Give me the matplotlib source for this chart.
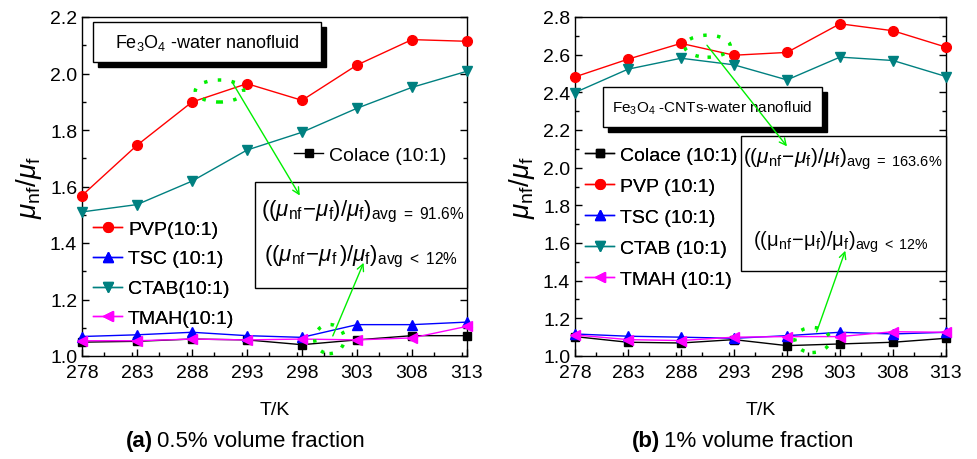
import matplotlib
matplotlib.use("Agg")
import matplotlib.pyplot as plt
from matplotlib.patches import Ellipse, Rectangle, FancyArrowPatch
from matplotlib.ticker import MultipleLocator

plt.rcParams['font.family'] = ['Liberation Sans', 'DejaVu Sans']
plt.rcParams['mathtext.fontset'] = 'custom'
plt.rcParams['mathtext.rm'] = 'Liberation Sans'
plt.rcParams['mathtext.it'] = 'Liberation Sans:italic'
plt.rcParams['mathtext.bf'] = 'Liberation Sans:bold'

# ---------------- data ----------------
temps = [278, 283, 288, 293, 298, 303, 308, 313]

series_names_a = ["Colace (10:1)", "PVP(10:1)", "TSC (10:1)", "CTAB(10:1)", "TMAH(10:1)"]
series_names_b = ["Colace (10:1)", "PVP (10:1)", "TSC (10:1)", "CTAB (10:1)", "TMAH (10:1)"]

colace_a = [1.049, 1.052, 1.060, 1.057, 1.040, 1.057, 1.072, 1.072]
pvp_a    = [1.568, 1.746, 1.899, 1.964, 1.905, 2.030, 2.120, 2.114]
tsc_a    = [1.069, 1.075, 1.084, 1.072, 1.066, 1.111, 1.111, 1.120]
ctab_a   = [1.510, 1.536, 1.619, 1.729, 1.792, 1.877, 1.951, 2.008]
tmah_a   = [1.054, 1.054, 1.060, 1.057, 1.060, 1.057, 1.064, 1.105]

colace_b = [1.103, 1.073, 1.069, 1.087, 1.055, 1.064, 1.073, 1.094]
pvp_b    = [2.482, 2.576, 2.660, 2.597, 2.612, 2.764, 2.727, 2.640]
tsc_b    = [1.117, 1.105, 1.100, 1.094, 1.108, 1.126, 1.117, 1.126]
ctab_b   = [2.399, 2.523, 2.581, 2.546, 2.466, 2.587, 2.569, 2.484]
tmah_b   = [1.112, 1.087, 1.082, 1.100, 1.103, 1.103, 1.129, 1.126]

colors = ["black", "#ff0000", "#0000ff", "#008080", "#ff00ff"]
markers = ["s", "o", "^", "v", "<"]
msizes = [5.5, 7, 7, 7, 7]

W, H = 978, 460
fig = plt.figure(figsize=(W / 100, H / 100), dpi=100)


def fx(px):
    return px / W


def fy(py):
    return 1 - py / H


def make_axes(x0, x1, y0, y1):
    return fig.add_axes([fx(x0), fy(y1), fx(x1) - fx(x0), fy(y0) - fy(y1)])


ax_a = make_axes(82, 467, 18, 357)
ax_b = make_axes(575, 946, 18, 357)

data_a = [colace_a, pvp_a, tsc_a, ctab_a, tmah_a]
data_b = [colace_b, pvp_b, tsc_b, ctab_b, tmah_b]

lines_a, lines_b = [], []
for i in range(5):
    l, = ax_a.plot(temps, data_a[i], color=colors[i], marker=markers[i], ms=msizes[i],
                   lw=1.0, label=series_names_a[i], clip_on=False, zorder=3)
    lines_a.append(l)
    l, = ax_b.plot(temps, data_b[i], color=colors[i], marker=markers[i], ms=msizes[i],
                   lw=1.0, label=series_names_b[i], clip_on=False, zorder=3)
    lines_b.append(l)

for ax, ylim in ((ax_a, (1.0, 2.2)), (ax_b, (1.0, 2.8))):
    ax.set_xlim(278, 313)
    ax.set_ylim(*ylim)
    ax.set_xticks(temps)
    ax.xaxis.set_minor_locator(MultipleLocator(2.5))
    ax.yaxis.set_major_locator(MultipleLocator(0.2))
    ax.yaxis.set_minor_locator(MultipleLocator(0.1))
    ax.yaxis.set_major_formatter(matplotlib.ticker.FormatStrFormatter('%.1f'))
    ax.tick_params(axis='both', which='both', direction='in', labelsize=14,
                   right=True, top=False)
    ax.tick_params(which='major', length=5, width=1)
    ax.tick_params(which='minor', length=3, width=1)
    ax.tick_params(axis='x', pad=6)
    for s in ax.spines.values():
        s.set_linewidth(1.0)
    ax.set_xlabel("T/K", fontsize=14, labelpad=14)
    ax.set_ylabel(r"$\mu_{\rm nf}/\mu_{\rm f}$", fontsize=20, labelpad=4)

# ---------- legends ----------
def px_legend(ax, handles, x_line, y_first, spacing):
    leg = ax.legend(handles=handles, loc='upper left',
                    bbox_to_anchor=(fx(x_line), fy(y_first - 7)),
                    bbox_transform=fig.transFigure, frameon=False, fontsize=14,
                    handlelength=1.5, handletextpad=0.3, labelspacing=spacing,
                    borderpad=0, borderaxespad=0)
    ax.add_artist(leg)
    return leg

px_legend(ax_a, [lines_a[0]], 294, 154, 0.6)
px_legend(ax_a, lines_a[1:], 93, 228, 0.63)
px_legend(ax_b, lines_b, 585, 154, 0.69)

# ---------- title boxes with shadow ----------
def shadow_box(x0, y0, x1, y1, text, size):
    fig.patches.append(Rectangle((fx(x0 + 5), fy(y1 + 5)), fx(x1 - x0), fy(y0) - fy(y1),
                                 transform=fig.transFigure, facecolor='black',
                                 edgecolor='black', zorder=5))
    fig.patches.append(Rectangle((fx(x0), fy(y1)), fx(x1 - x0), fy(y0) - fy(y1),
                                 transform=fig.transFigure, facecolor='white',
                                 edgecolor='black', lw=1.0, zorder=6))
    fig.text(fx((x0 + x1) / 2), fy((y0 + y1) / 2), text, fontsize=size,
             ha='center', va='center', zorder=7)

shadow_box(93, 23, 321, 63, r"Fe$_3$O$_4$ -water nanofluid", 13)
shadow_box(603, 88, 822, 128, r"Fe$_3$O$_4$ -CNTs-water nanofluid", 11)

# ---------- annotation boxes ----------
def plain_box(x0, y0, x1, y1):
    fig.patches.append(Rectangle((fx(x0), fy(y1)), fx(x1 - x0), fy(y0) - fy(y1),
                                 transform=fig.transFigure, facecolor='white',
                                 edgecolor='black', lw=1.0, zorder=4))

plain_box(255, 183, 467, 289)
plain_box(741, 137, 946, 272)

expr_it = r"$((\mu_{\rm nf}\!-\!\mu_{\rm f})/\mu_{\rm f})_{\rm avg\ =\ 91.6\%}$"
expr_it2 = r"$((\mu_{\rm nf}\!-\!\mu_{\rm f}\,)/\mu_{\rm f})_{\rm avg\ <\ 12\%}$"
expr_it3 = r"$((\mu_{\rm nf}\!-\!\mu_{\rm f})/\mu_{\rm f})_{\rm avg\ =\ 163.6\%}$"
expr_rm = r"$((\mathrm{\mu}_{\rm nf}\!-\!\mathrm{\mu}_{\rm f})/\mathrm{\mu}_{\rm f})_{\rm avg\ <\ 12\%}$"

fig.text(fx(363), fy(212), expr_it, fontsize=16, ha='center', va='center', zorder=8)
fig.text(fx(361), fy(257), expr_it2, fontsize=16, ha='center', va='center', zorder=8)
fig.text(fx(843), fy(159), expr_it3, fontsize=15, ha='center', va='center', zorder=8)
fig.text(fx(841), fy(242), expr_rm, fontsize=14.5, ha='center', va='center', zorder=8)

# ---------- green ellipses and arrows (drawn on top of everything) ----------
green = '#00ee00'

def mark(ax, c, w, h, start, end):
    e = Ellipse(c, w, h, fill=False, edgecolor=green, lw=2.5, linestyle=(0, (1, 3)),
                zorder=10)
    e.set_transform(ax.transData)
    fig.add_artist(e)
    a = FancyArrowPatch(start, end, arrowstyle='->', color=green, lw=1.0,
                        mutation_scale=12, shrinkA=0, shrinkB=0, zorder=10)
    a.set_transform(ax.transData)
    fig.add_artist(a)

mark(ax_a, (290.5, 1.938), 4.4, 0.078, (291.7, 1.966), (297.8, 1.568))
mark(ax_a, (300.5, 1.06), 2.7, 0.103, (300.8, 1.071), (303.6, 1.33))
mark(ax_b, (290.5, 2.645), 4.3, 0.117, (290.45, 2.65), (298.0, 2.113))
mark(ax_b, (300.4, 1.085), 3.3, 0.133, (300.8, 1.128), (303.5, 1.559))

# ---------- captions ----------
fig.text(fx(153), fy(442), "(a)", fontsize=16, fontweight='bold', ha='right', va='center')
fig.text(fx(157), fy(442), "0.5% volume fraction", fontsize=16, ha='left', va='center')
fig.text(fx(660), fy(442), "(b)", fontsize=16, fontweight='bold', ha='right', va='center')
fig.text(fx(664), fy(442), "1% volume fraction", fontsize=16, ha='left', va='center')

fig.savefig("out.png", dpi=100)
